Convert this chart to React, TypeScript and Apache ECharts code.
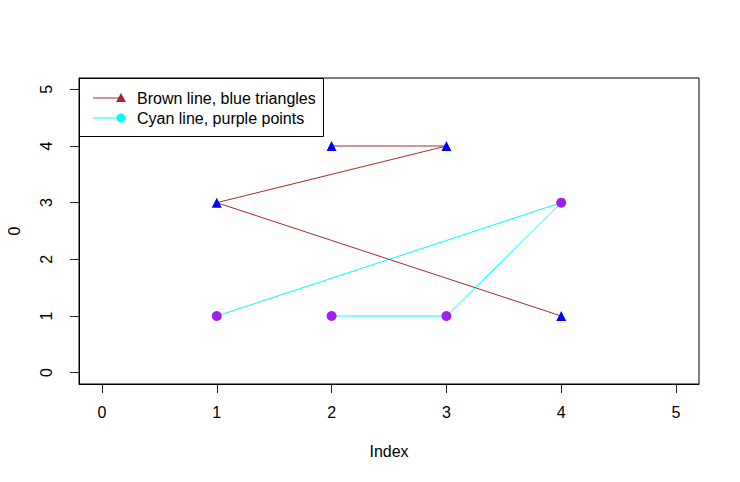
import React, { useEffect, useRef } from "react";
import * as echarts from "echarts";

const brownX = [2, 3, 1, 4];
const brownY = [4, 4, 3, 1];
const cyanX = [1, 4, 3, 2];
const cyanY = [1, 3, 1, 1];
const tickValues = [0, 1, 2, 3, 4, 5];
const legendLabels = ["Brown line, blue triangles", "Cyan line, purple points"];
const xTitle = "Index";
const yTitle = "0";

const FONT = "Liberation Sans, Arial, Helvetica, sans-serif";

export default function App() {
  const ref = useRef<HTMLDivElement>(null);
  useEffect(() => {
    if (!ref.current) return;
    const chart = echarts.init(ref.current, null, { renderer: "svg" });
    const brownData = brownX.map((x, i) => [x, brownY[i]]);
    const cyanData = cyanX.map((x, i) => [x, cyanY[i]]);
    const axisCommon = {
      type: "value" as const,
      min: -0.2,
      max: 5.2,
      splitLine: { show: false },
      axisLine: { show: true, onZero: false, lineStyle: { color: "#000", width: 1 } },
      axisTick: {
        show: true,
        customValues: tickValues,
        length: 9,
        lineStyle: { color: "#222", width: 1 },
      },
    };
    const lx = 79;
    const ly = 78;
    chart.setOption({
      animation: false,
      backgroundColor: "#fff",
      grid: {
        left: 79,
        top: 78,
        width: 620,
        height: 306,
        containLabel: false,
        outerBoundsMode: "none",
        show: true,
        borderColor: "#000",
        borderWidth: 1,
        backgroundColor: "transparent",
      },
      xAxis: {
        ...axisCommon,
        axisLabel: {
          customValues: tickValues,
          margin: 20,
          color: "#000",
          fontSize: 16,
          fontFamily: FONT,
        },
        name: xTitle,
        nameLocation: "middle",
        nameGap: 59,
        nameTextStyle: { color: "#000", fontSize: 16, fontFamily: FONT },
      },
      yAxis: {
        ...axisCommon,
        axisLabel: {
          customValues: tickValues,
          margin: 25,
          rotate: 90,
          color: "#000",
          fontSize: 16,
          fontFamily: FONT,
        },
        name: yTitle,
        nameLocation: "middle",
        nameGap: 57,
        nameTextStyle: { color: "#000", fontSize: 16, fontFamily: FONT },
      },
      series: [
        {
          type: "line",
          data: brownData,
          symbol: "triangle",
          symbolSize: 10,
          showAllSymbol: true,
          lineStyle: { color: "#A52A2A", width: 1 },
          itemStyle: { color: "#0000FF", borderWidth: 0 },
          z: 3,
        },
        {
          type: "line",
          data: cyanData,
          symbol: "circle",
          symbolSize: 10,
          showAllSymbol: true,
          lineStyle: { color: "#00FFFF", width: 1 },
          itemStyle: { color: "#A020F0", borderWidth: 0 },
          z: 2,
        },
      ],
      graphic: [
        {
          type: "rect",
          shape: { x: lx + 0.5, y: ly + 0.5, width: 244, height: 58 },
          style: { fill: "#fff", stroke: "#000", lineWidth: 1 },
          z: 10,
        },
        {
          type: "line",
          shape: { x1: lx + 14, y1: ly + 20, x2: lx + 42, y2: ly + 20 },
          style: { stroke: "#A52A2A", lineWidth: 1 },
          z: 11,
        },
        {
          type: "polygon",
          shape: { points: [[lx + 42, ly + 15], [lx + 47, ly + 24], [lx + 37, ly + 24]] },
          style: { fill: "#A52A2A" },
          z: 11,
        },
        {
          type: "text",
          x: lx + 58,
          y: ly + 20,
          style: {
            text: legendLabels[0],
            fill: "#000",
            fontSize: 16,
            fontFamily: FONT,
            verticalAlign: "middle",
          },
          z: 11,
        },
        {
          type: "line",
          shape: { x1: lx + 14, y1: ly + 40, x2: lx + 42, y2: ly + 40 },
          style: { stroke: "#00FFFF", lineWidth: 1 },
          z: 11,
        },
        {
          type: "circle",
          shape: { cx: lx + 42, cy: ly + 40, r: 4.5 },
          style: { fill: "#00FFFF" },
          z: 11,
        },
        {
          type: "text",
          x: lx + 58,
          y: ly + 40,
          style: {
            text: legendLabels[1],
            fill: "#000",
            fontSize: 16,
            fontFamily: FONT,
            verticalAlign: "middle",
          },
          z: 11,
        },
      ],
    });
    return () => chart.dispose();
  }, []);
  return (
    <div
      ref={ref}
      style={{ width: 740, height: 482, margin: -8 }}
    />
  );
}
